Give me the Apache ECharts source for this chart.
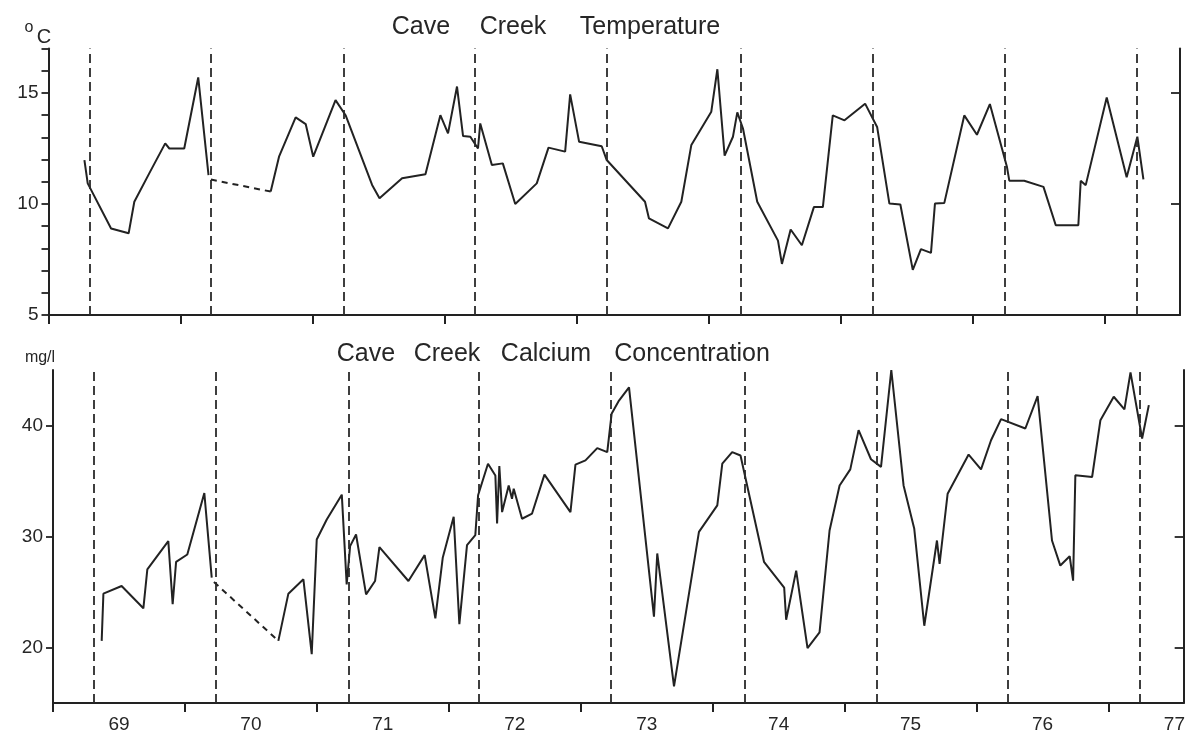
<!DOCTYPE html>
<html>
<head>
<meta charset="utf-8">
<script src="https://cdn.jsdelivr.net/npm/echarts@6/dist/echarts.min.js"></script>
<style>
html,body{margin:0;padding:0;background:#fff;}
#c{width:1188px;height:734px;}
</style>
</head>
<body>
<div id="c"></div>
<script>
// ---------- data ----------
const yearTicks = [1969, 1970, 1971, 1972, 1973, 1974, 1975, 1976, 1977];
const yearLabels = ['69', '70', '71', '72', '73', '74', '75', '76', '77'];
const seasonMarks = [1969.31, 1970.23, 1971.24, 1972.235, 1973.23, 1974.24, 1975.24, 1976.24, 1977.24];

const tempTickLabels = [5, 10, 15];
const tempMinorTicks = [5, 6, 7, 8, 9, 10, 11, 12, 13, 14, 15, 16, 17];
const caTickLabels = [20, 30, 40];

// Temperature (deg C): [year, value]
const tempSeg1 = [
  [1969.272, 11.98], [1969.297, 10.93], [1969.474, 8.9], [1969.607, 8.68], [1969.65, 10.1],
  [1969.763, 11.38], [1969.884, 12.73], [1969.915, 12.5], [1970.028, 12.5], [1970.134, 15.7],
  [1970.212, 11.3]
];
const tempGap = [[1970.23, 11.1], [1970.683, 10.56]];
const tempSeg2 = [
  [1970.683, 10.56], [1970.746, 12.13], [1970.872, 13.9], [1970.948, 13.6], [1971.005, 12.13],
  [1971.174, 14.68], [1971.25, 14.0], [1971.451, 10.86], [1971.507, 10.26], [1971.678, 11.16],
  [1971.855, 11.34], [1971.968, 14.0], [1972.026, 13.18], [1972.094, 15.29], [1972.14, 13.06],
  [1972.195, 13.03], [1972.253, 12.5], [1972.27, 13.63], [1972.358, 11.76], [1972.441, 11.83],
  [1972.535, 10.0], [1972.698, 10.93], [1972.787, 12.54], [1972.913, 12.36], [1972.951, 14.94],
  [1973.019, 12.8], [1973.19, 12.6], [1973.228, 11.98], [1973.379, 11.0], [1973.518, 10.1],
  [1973.548, 9.35], [1973.692, 8.9], [1973.793, 10.1], [1973.869, 12.66], [1974.02, 14.16],
  [1974.066, 16.07], [1974.121, 12.18], [1974.184, 13.03], [1974.217, 14.13], [1974.26, 13.4],
  [1974.368, 10.1], [1974.525, 8.35], [1974.555, 7.3], [1974.621, 8.85], [1974.706, 8.14],
  [1974.797, 9.86], [1974.865, 9.86], [1974.94, 13.99], [1975.029, 13.77], [1975.185, 14.52],
  [1975.276, 13.47], [1975.369, 10.02], [1975.452, 9.98], [1975.546, 7.03], [1975.608, 7.97],
  [1975.684, 7.8], [1975.714, 10.02], [1975.785, 10.05], [1975.936, 13.99], [1976.032, 13.12],
  [1976.13, 14.5], [1976.259, 11.68], [1976.277, 11.05], [1976.39, 11.05], [1976.536, 10.77],
  [1976.629, 9.04], [1976.8, 9.04], [1976.818, 11.05], [1976.856, 10.85], [1977.015, 14.8],
  [1977.166, 11.2], [1977.247, 13.03], [1977.293, 11.11]
];

// Calcium (mg/l): [year, value]
const caSeg1 = [
  [1969.369, 20.6], [1969.382, 24.85], [1969.52, 25.54], [1969.685, 23.53], [1969.715, 27.04],
  [1969.874, 29.58], [1969.907, 23.9], [1969.933, 27.72], [1970.018, 28.38], [1970.147, 33.92],
  [1970.203, 26.29]
];
const caGap = [[1970.22, 25.9], [1970.708, 20.6]];
const caSeg2 = [
  [1970.708, 20.6], [1970.784, 24.85], [1970.898, 26.14], [1970.961, 19.4], [1970.999, 29.73],
  [1971.075, 31.53], [1971.189, 33.77], [1971.226, 25.69], [1971.252, 29.13], [1971.297, 30.18],
  [1971.373, 24.79], [1971.441, 25.99], [1971.474, 29.04], [1971.694, 25.99], [1971.817, 28.32],
  [1971.898, 22.63], [1971.954, 28.08], [1972.037, 31.77], [1972.08, 22.1], [1972.138, 29.22],
  [1972.201, 30.12], [1972.222, 33.71], [1972.297, 36.56], [1972.353, 35.5], [1972.366, 31.17],
  [1972.383, 36.35], [1972.404, 32.2], [1972.454, 34.6], [1972.479, 33.4], [1972.492, 34.3],
  [1972.555, 31.6], [1972.631, 32.07], [1972.725, 35.57], [1972.922, 32.2], [1972.96, 36.47],
  [1973.036, 36.86], [1973.125, 37.96], [1973.201, 37.6], [1973.234, 41.05], [1973.29, 42.25],
  [1973.366, 43.44], [1973.555, 22.78], [1973.58, 28.47], [1973.707, 16.5], [1973.896, 30.42],
  [1974.035, 32.8], [1974.073, 36.56], [1974.148, 37.6], [1974.211, 37.3], [1974.389, 27.72],
  [1974.542, 25.4], [1974.557, 22.5], [1974.633, 26.93], [1974.719, 19.94], [1974.81, 21.36],
  [1974.886, 30.54], [1974.962, 34.6], [1975.043, 36.05], [1975.106, 39.58], [1975.2, 36.96],
  [1975.276, 36.27], [1975.354, 45.0], [1975.447, 34.6], [1975.528, 30.69], [1975.604, 21.96],
  [1975.7, 29.64], [1975.72, 27.53], [1975.781, 33.86], [1975.94, 37.38], [1976.034, 36.05],
  [1976.11, 38.67], [1976.186, 40.57], [1976.37, 39.73], [1976.463, 42.65], [1976.572, 29.64],
  [1976.635, 27.38], [1976.706, 28.22], [1976.732, 26.02], [1976.749, 35.51], [1976.876, 35.36],
  [1976.939, 40.48], [1977.04, 42.59], [1977.121, 41.45], [1977.167, 44.79], [1977.255, 38.83],
  [1977.306, 41.84]
];

// ---------- chart ----------
const INK = '#222222';
const TXT = '#262626';
const FONT = '"Liberation Sans", Arial, Helvetica, sans-serif';
const labelPositions = yearLabels.map((_, i) => yearTicks[0] + i + 0.5);

function xAxis(gridIndex, showLabels) {
  return {
    type: 'value', gridIndex: gridIndex, min: 1969, max: 1977.57,
    splitLine: { show: false },
    axisLine: { show: true, onZero: false, lineStyle: { color: INK, width: 2 } },
    axisTick: { show: true, customValues: yearTicks, length: 9, lineStyle: { color: INK, width: 2 } },
    axisLabel: showLabels ? {
      show: true, customValues: labelPositions, margin: 12,
      fontFamily: FONT, fontSize: 19, color: TXT,
      formatter: function (v) { return yearLabels[Math.round(v - 1969.5)]; }
    } : { show: false }
  };
}

function yAxis(gridIndex, min, max, ticks, labels, right) {
  return {
    type: 'value', gridIndex: gridIndex, min: min, max: max,
    position: right ? 'right' : 'left',
    splitLine: { show: false },
    axisLine: { show: true, onZero: false, lineStyle: { color: INK, width: 2 } },
    axisTick: { show: true, inside: !!right, customValues: ticks, length: right ? 9 : 7, lineStyle: { color: INK, width: 1.8 } },
    axisLabel: right ? { show: false } : {
      show: true, customValues: labels, margin: 10,
      fontFamily: FONT, fontSize: 19, color: TXT
    }
  };
}

function line(data, xi, yi, dashed) {
  return {
    type: 'line', data: data, xAxisIndex: xi, yAxisIndex: yi,
    symbol: 'none', clip: false, silent: true,
    lineStyle: { color: INK, width: 2, type: dashed ? [6, 5] : 'solid' },
    emphasis: { disabled: true }
  };
}

function marks(xi, yi) {
  return {
    type: 'line', data: [], xAxisIndex: xi, yAxisIndex: yi, symbol: 'none', silent: true,
    markLine: {
      silent: true, symbol: ['none', 'none'], label: { show: false },
      lineStyle: { color: '#2a2a2a', width: 1.8, type: [9, 5] },
      emphasis: { disabled: true },
      data: seasonMarks.map(v => ({ xAxis: v }))
    }
  };
}

function word(text, x, y, size) {
  return {
    type: 'text', x: x, y: y, silent: true,
    style: { text: text, fontFamily: FONT, fontSize: size || 25, fill: TXT, align: 'center', verticalAlign: 'middle' }
  };
}

const chart = echarts.init(document.getElementById('c'), null, { renderer: 'canvas' });
chart.setOption({
  animation: false,
  backgroundColor: '#ffffff',
  grid: [
    { left: 48.5, top: 48.6, width: 1131.5, height: 266.4 },
    { left: 53, top: 370, width: 1131.3, height: 334 }
  ],
  xAxis: [xAxis(0, false), xAxis(1, true)],
  yAxis: [
    yAxis(0, 5, 17, tempMinorTicks, tempTickLabels, false),
    yAxis(0, 5, 17, [10, 15], null, true),
    yAxis(1, 15, 45, caTickLabels, caTickLabels, false),
    yAxis(1, 15, 45, caTickLabels, null, true)
  ],
  series: [
    marks(0, 0),
    line(tempSeg1, 0, 0, false),
    line(tempGap, 0, 0, true),
    line(tempSeg2, 0, 0, false),
    marks(1, 2),
    line(caSeg1, 1, 2, false),
    line(caGap, 1, 2, true),
    line(caSeg2, 1, 2, false)
  ],
  graphic: [
    word('Cave', 421, 27), word('Creek', 513, 27), word('Temperature', 650, 27),
    word('Cave', 366, 354), word('Creek', 447, 354), word('Calcium', 546, 354), word('Concentration', 692, 354),
    word('o', 29, 28, 16), word('C', 44, 37, 20),
    word('mg/l', 40, 358, 16)
  ]
});
</script>
</body>
</html>
